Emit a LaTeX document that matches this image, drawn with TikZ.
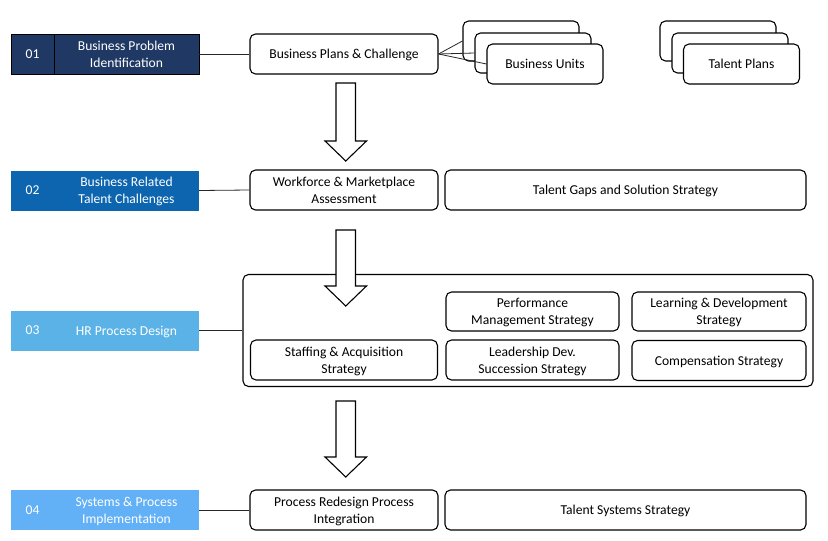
\documentclass[tikz,border=0pt]{standalone}
\usepackage{fontspec}
\setmainfont{Carlito}
\begin{document}
\begin{tikzpicture}[x=1pt,y=-1pt,
  every node/.style={font=\fontsize{13.6}{16.8}\selectfont, inner sep=0pt, align=center, text depth=0pt},
  box/.style={draw=black, line width=1.1pt, rounded corners=5.5pt, fill=white},
  numcell/.style={minimum width=43pt, minimum height=40pt, text=white},
  labcell/.style={minimum width=145pt, minimum height=40pt, text=white},
  link/.style={draw=black!85, line width=0.8pt},
  blockarrow/.style={draw=black, line width=1.1pt, fill=white, line join=miter}
]
\useasboundingbox (0,0) rectangle (828,541);
\definecolor{cA}{HTML}{1F3864}
\definecolor{cB}{HTML}{0C65AE}
\definecolor{cC}{HTML}{5AB2E7}
\definecolor{cD}{HTML}{62B0F6}

% left stage labels
\node[numcell, fill=cA, draw=black, line width=0.8pt] (n1) at (32.5,54) {01};
\node[labcell, fill=cA, draw=black, line width=0.8pt] (t1) at (126.5,54) {Business Problem\\Identification};
\node[numcell, fill=cB] (n2) at (32.5,190.5) {02};
\node[labcell, fill=cB] (t2) at (126.5,190.5) {Business Related\\Talent Challenges};
\node[numcell, fill=cC] (n3) at (32.5,330.5) {03};
\node[labcell, fill=cC] (t3) at (126.5,330.5) {HR Process Design};
\node[numcell, fill=cD] (n4) at (32.5,510) {04};
\node[labcell, fill=cD] (t4) at (126.5,510) {Systems \& Process\\Implementation};

% row 1
\node[box, minimum width=188pt, minimum height=40pt] (bp) at (344,54) {Business Plans \& Challenge};
\node[box, minimum width=116pt, minimum height=40pt] (bu1) at (521,41) {};
\node[box, minimum width=116pt, minimum height=40pt] (bu2) at (533,53) {};
\node[box, minimum width=116pt, minimum height=40pt] (bu3) at (545,64) {Business Units};
\node[box, minimum width=116pt, minimum height=40pt] (tp1) at (718,41) {};
\node[box, minimum width=116pt, minimum height=40pt] (tp2) at (730,53) {};
\node[box, minimum width=116pt, minimum height=40pt] (tp3) at (741.5,64) {Talent Plans};
\draw[link] (bp.east) -- (bu1.west);
\draw[link] (bp.east) -- (bu2.west);
\draw[link] (bp.east) -- (bu3.west);
\draw[link] (t1.east) -- (bp.west);

% row 2
\node[box, minimum width=188pt, minimum height=40pt] (wf) at (344,190) {Workforce \& Marketplace\\Assessment};
\node[box, minimum width=361pt, minimum height=40pt] (tg) at (625.5,190) {Talent Gaps and Solution Strategy};
\draw[link] (t2.east) -- (wf.west);

% row 3
\node[box, minimum width=570pt, minimum height=112pt] (hr) at (528,330.5) {};
\node[box, minimum width=173pt, minimum height=39pt] (perf) at (532.5,311.5) {Performance\\Management Strategy};
\node[box, minimum width=174pt, minimum height=39pt] (learn) at (719,311.5) {Learning \& Development\\Strategy};
\node[box, minimum width=187pt, minimum height=40pt] (staff) at (344,360) {Staffing \& Acquisition\\Strategy};
\node[box, minimum width=173pt, minimum height=40pt] (lead) at (532.5,360) {Leadership Dev.\\Succession Strategy};
\node[box, minimum width=174pt, minimum height=40pt] (comp) at (719,360.5) {Compensation Strategy};
\draw[link] (t3.east) -- (hr.west);

% row 4
\node[box, minimum width=188pt, minimum height=40pt] (pr) at (344,510) {Process Redesign Process\\Integration};
\node[box, minimum width=361pt, minimum height=40pt] (ts) at (625.5,510) {Talent Systems Strategy};
\draw[link] (t4.east) -- (pr.west);

% block arrows
\foreach \top/\head/\tip [count=\i] in {83/141/161, 230/286/306, 401/457/477}{
  \draw[blockarrow] (336,\top) -- (355.5,\top) -- (355.5,\head) -- (366.5,\head)
    -- (345.75,\tip) -- (325,\head) -- (336,\head) -- cycle;
}
\end{tikzpicture}
\end{document}
